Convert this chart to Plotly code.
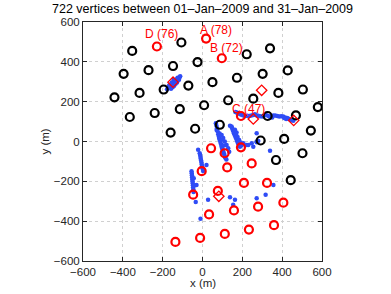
import plotly.graph_objects as go

# ---- data ----
title_text = "722 vertices between 01\u2013Jan\u20132009 and 31\u2013Jan\u20132009"
tick_vals = [-600, -400, -200, 0, 200, 400, 600]
tick_text = ["\u2212600", "\u2212400", "\u2212200", "0", "200", "400", "600"]

black_x = [-106, 222, 339, -271, -148, -25, -316, -195, -71, 50, 173, 302, 428, 381,
           504, 129, 255, -240, -114, 8, 579, 327, 469, -160, -37, 87, 544, 292, 410,
           -353, -396, -442, -365, 502, 369, 443]
black_y = [497, 438, 468, 358, 379, 399, 244, 261, 281, 298, 320, 340, 357, 244,
           261, 207, 215, 143, 163, 182, 173, 128, 131, 45, 64, 84, 55, 5, 13,
           455, 340, 222, 123, -59, -93, -194]

red_x = [18, 97, 193, -229, 43, 111, 193, -4, 124, 247, 208, 324, -47, 77, 406, 279,
         158, 33, 359, 233, 112, -12, -136]
red_y = [517, 418, 128, 477, -34, -59, -29, -149, -130, -110, -208, -208, -267, -248,
         -307, -327, -346, -366, -420, -442, -464, -484, -504]

diamond_x = [-148, 297, 255, 458, 82]
diamond_y = [298, 257, 113, 106, -275]

label_text = ["A (78)", "B (72)", "C (47)", "D (76)"]
label_x = [68, 122, 232, -205]
label_y = [562, 470, 164, 540]

# blue vertices, grouped by visible track
blue_d_x = [-178, -172, -168, -163, -160, -155, -152, -148, -145, -140, -138, -133,
            -130, -125, -120, -115, -112, -158, -150, -142, -135, -128, -165, -170,
            -118, -125, -145, -155]
blue_d_y = [262, 268, 275, 270, 282, 278, 290, 286, 298, 293, 305, 300,
            312, 308, 318, 322, 327, 265, 272, 280, 290, 296, 285, 278,
            310, 320, 310, 296]

blue_c_x = [165, 172, 180, 188, 195, 205, 215, 225, 235, 245, 255, 263, 270, 280,
            290, 300, 310, 318, 330, 345, 355, 365, 375, 385, 395, 405, 415, 425,
            432, 440, 448, 456, 340, 350, 420, 410]
blue_c_y = [148, 145, 142, 138, 134, 130, 128, 129, 128, 130, 133, 137, 132, 129,
            127, 126, 131, 134, 128, 126, 131, 130, 128, 125, 127, 125, 121, 118,
            114, 110, 107, 104, 122, 120, 113, 118]

blue_a_x = [67, 70, 73, 71, 76, 79, 82, 84, 88, 91, 94, 96, 99, 101, 104, 107, 110,
            112, 116, 120, 96, 104, 112, 121, 129, 134, 86, 100, 108]
blue_a_y = [92, 79, 66, 58, 50, 36, 25, 14, 4, -8, -16, -26, -35, -43, -52, -59, -68,
            -76, -84, -91, 33, 17, 0, -17, -34, -51, 40, 10, -20]

blue_b_x = [146, 149, 152, 155, 158, 161, 165, 168, 172, 175, 178, 182, 185, 188,
            160, 168, 176, 184, 192, 205, 222, 230, 247, 255, 272, 280, 196]
blue_b_y = [75, 66, 58, 50, 42, 34, 25, 17, 8, 0, -8, -14, -20, -26,
            50, 36, 22, 8, -5, -9, -17, -17, -9, -26, 0, 2, -20]

blue_e_x = [-22, -14, -12, -10, -9, -7, -5, -4, -2, 0, 3, 20]
blue_e_y = [-42, -59, -68, -78, -86, -96, -106, -115, -125, -135, -148, -118]

blue_f_x = [-55, -54, -53, -52, -51, -50, -49, -48, -47, -46, -45, -44, -42, -34, -30]
blue_f_y = [-149, -160, -170, -180, -190, -200, -210, -220, -230, -240, -253, -185,
            -220, -304, -219]

blue_s_x = [28, 138, 163, 154, 272, 317, 356, -10, 339, 272, 138, 163, 171, 272]
blue_s_y = [-292, -280, -292, -318, -285, -267, -219, -388, -46, 42, 79, 59, 45, -4]

blue_x = blue_d_x + blue_c_x + blue_a_x + blue_b_x + blue_e_x + blue_f_x + blue_s_x
blue_y = blue_d_y + blue_c_y + blue_a_y + blue_b_y + blue_e_y + blue_f_y + blue_s_y

# ---- figure ----
FONT = "Liberation Sans, Arial, Helvetica, sans-serif"
BLUE = "#2f4cf6"
RED = "#ff0000"

fig = go.Figure()
fig.add_trace(go.Scatter(x=blue_x, y=blue_y, mode="markers",
                         marker=dict(color=BLUE, size=4.5, line=dict(width=0))))
fig.add_trace(go.Scatter(x=black_x, y=black_y, mode="markers",
                         marker=dict(symbol="circle-open", color="black", size=8,
                                     line=dict(width=2.2, color="black"))))
fig.add_trace(go.Scatter(x=red_x, y=red_y, mode="markers",
                         marker=dict(symbol="circle-open", color=RED, size=8,
                                     line=dict(width=2.2, color=RED))))
fig.add_trace(go.Scatter(x=diamond_x, y=diamond_y, mode="markers",
                         marker=dict(symbol="diamond-open", color=RED, size=8,
                                     line=dict(width=1.3, color=RED))))

annotations = []
for t, x, y in zip(label_text, label_x, label_y):
    annotations.append(dict(x=x, y=y, xref="x", yref="y", text=t, showarrow=False,
                            font=dict(family=FONT, size=12, color=RED),
                            xanchor="center", yanchor="middle"))
annotations.append(dict(x=0.5, y=1.016, xref="paper", yref="paper", text=title_text,
                        showarrow=False, xanchor="center", yanchor="bottom",
                        font=dict(family=FONT, size=12.5, color="#000000")))
annotations.append(dict(x=0.5, y=-0.092, xref="paper", yref="paper", text="x (m)",
                        showarrow=False, xanchor="center", yanchor="middle",
                        font=dict(family=FONT, size=11.5, color="#262626")))
annotations.append(dict(x=-0.163, y=0.5, xref="paper", yref="paper", text="y (m)",
                        showarrow=False, xanchor="center", yanchor="middle",
                        textangle=-90,
                        font=dict(family=FONT, size=11.5, color="#262626")))

axis_common = dict(range=[-600, 600], tickvals=tick_vals, ticktext=tick_text,
                   showgrid=True, gridcolor="#d0d0d0", griddash="dot", gridwidth=1,
                   zeroline=False, showline=True, linecolor="#262626", linewidth=1,
                   mirror="ticks", ticks="inside", ticklen=4, tickcolor="#262626",
                   automargin=False,
                   tickfont=dict(family=FONT, size=11.5, color="#262626"))

fig.update_layout(
    width=391, height=294,
    margin=dict(l=83, r=69, t=22, b=33),
    paper_bgcolor="white", plot_bgcolor="white",
    showlegend=False, hovermode=False,
    xaxis=dict(**axis_common),
    yaxis=dict(**axis_common),
    annotations=annotations,
)

fig.write_html("out.html", config={"displayModeBar": False, "staticPlot": True},
               post_script="document.body.style.margin='0';document.body.style.overflow='hidden';")
